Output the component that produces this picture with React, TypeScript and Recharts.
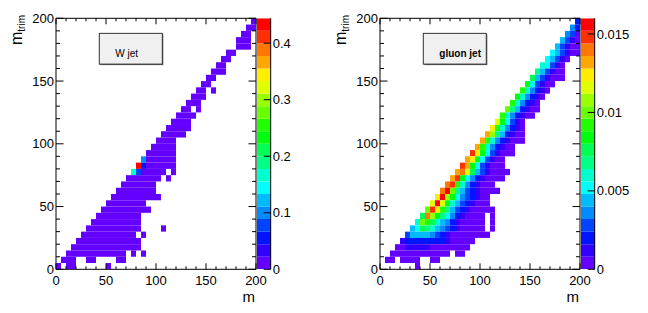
import { ScatterChart, Scatter, XAxis, YAxis, ReferenceArea, Label, BarChart, Bar } from 'recharts';

// 40 x 40 bins from 0 to 200 on both axes
const BINS = 40;
const M_MAX = 200;
const BIN_WIDTH = M_MAX / BINS;

const M_TICKS = [0, 10, 20, 30, 40, 50, 60, 70, 80, 90, 100, 110, 120, 130, 140, 150, 160, 170, 180, 190, 200];
const M_LABELS = [0, 50, 100, 150, 200];

// colour contours, lowest first
const PALETTE = [
    '#6300ff', '#3300ff', '#0014ff', '#0044ff', '#008bff',
    '#00bbff', '#00fffc', '#00ffcc', '#00ff85', '#00ff55',
    '#00ff0e', '#22ff00', '#69ff00', '#99ff00', '#e0ff00',
    '#ffee00', '#ffa700', '#ff7700', '#ff3000', '#ff0000',
];

// one string per m_trim bin (top row first), one char per m bin:
// '.' empty, otherwise the contour band 0-9, a-j (base 36)
const W_JET_ROWS = [
    '.......... .......... .......... .........0',
    '.......... .......... .......... ........00',
    '.......... .......... .......... .......00.',
    '.......... .......... .......... ......000.',
    '.......... .......... .......... ......000.',
    '.......... .......... .......... ....00....',
    '.......... .......... .......... ...00.....',
    '.......... .......... .......... ..00......',
    '.......... .......... .......... .000......',
    '.......... .......... .......... 00........',
    '.......... .......... .........0 0.........',
    '.......... .......... ........00 .0........',
    '.......... .......... .......000 ..........',
    '.......... .......... ......000. ..........',
    '.......... .......... .....00.0. ..........',
    '.......... .......... ....0000.. ..........',
    '.......... .......... ...0000... ..........',
    '.......... .......... ..00000... ..........',
    '.......... .......... .00000.... ..........',
    '.......... .......... 0000...... ..........',
    '.......... .........0 0000...... ..........',
    '.......... ........00 0000...... ..........',
    '.......... .......400 0000...... ..........',
    '.......... ......j200 0000...... ..........',
    '.......... .....73000 00.0...... ..........',
    '.......... ....000000 0.0....... ..........',
    '.......... ...0000000 .......... ..........',
    '.......... ..00000000 .......... ..........',
    '.......... .000000000 0......... ..........',
    '.......... 00000000.. .......... ..........',
    '.........0 000000000. .......... ..........',
    '........00 0000000... .......... ..........',
    '.......000 0000000... .......... ..........',
    '......0000 0000000... .0........ ..........',
    '.....00000 000000.0.. .......... ..........',
    '....000000 0000000... .......... ..........',
    '...0000000 0000000... .......... ..........',
    '..00000000 0000.0.0.. .......... ..........',
    '.000..00.. ..00...... .......... ..........',
    '0.00...... 0......... .......... ..........',
];

const GLUON_JET_ROWS = [
    '.......... .......... .......... .........2',
    '.......... .......... .......... ........42',
    '.......... .......... .......... .......430',
    '.......... .......... .......... ......5310',
    '.......... .......... .......... .....53100',
    '.......... .......... .......... ....653100',
    '.......... .......... .......... ...65310..',
    '.......... .......... .......... ..76310...',
    '.......... .......... .......... .853100...',
    '.......... .......... .......... 9531000...',
    '.......... .......... .........a 63100.....',
    '.......... .......... ........b7 4210......',
    '.......... .......... .......a74 210.......',
    '.......... .......... ......b742 10........',
    '.......... .......... .....c8521 00........',
    '.......... .......... ....b74210 0.........',
    '.......... .......... ...ea6310. ..........',
    '.......... .......... ..fb74210. ..........',
    '.......... .......... .gd852100. ..........',
    '.......... .......... gb7421000. ..........',
    '.......... .........g b742100... ..........',
    '.......... ........if a631000... ..........',
    '.......... .......gfa 63100..... ..........',
    '.......... ......iga6 31000..... ..........',
    '.......... .....ghe95 310000.... ..........',
    '.......... ....gia642 10000..... ..........',
    '.......... ...hib7421 000....... ..........',
    '.......... ..hjc85321 0000...... ..........',
    '.......... .fjda64321 00........ ..........',
    '.......... ejea753210 00........ ..........',
    '.........c ifb8532100 000....... ..........',
    '........9h da86421000 0.0....... ..........',
    '.......7cb 9754210000 0.0....... ..........',
    '......5698 7543210000 0.0....... ..........',
    '.....35555 4321000000 00........ ..........',
    '....122222 222100000. .......... ..........',
    '...0011111 00000000.. .......... ..........',
    '..00000000 0000.00... .......... ..........',
    '.00.0000.. 00........ .......... ..........',
    '.......0.. .......... .......... ..........',
];

const W_Z_MAX = 0.444;
const W_Z_TICKS = [0, 0.1, 0.2, 0.3, 0.4];
const GLUON_Z_MAX = 0.016;
const GLUON_Z_TICKS = [0, 0.005, 0.01, 0.015];

// layout of one pad
const PAD_W = 324;
const PAD_H = 313;
const PLOT_LEFT = 56;
const PLOT_TOP = 18.3;
const PLOT_RIGHT = 256;
const PLOT_BOTTOM = 269.3;
const PLOT_W = PLOT_RIGHT - PLOT_LEFT;
const PLOT_H = PLOT_BOTTOM - PLOT_TOP;
const CELL_W = PLOT_W / BINS;
const CELL_H = PLOT_H / BINS;
const ZBAR_LEFT = 257;
const ZBAR_W = 13.7;

const FONT = "'Liberation Sans', Arial, Helvetica, sans-serif";

interface Cell {
    m: number;
    mTrim: number;
    z: number;
}

function toCells(rows: string[], zMax: number): Cell[] {
    const cells: Cell[] = [];
    rows.forEach((row, r) => {
        const bins = row.replace(/ /g, '');
        const j = BINS - 1 - r;
        for (let c = 0; c < bins.length; c++) {
            if (bins[c] === '.') continue;
            const band = parseInt(bins[c], 36);
            cells.push({
                m: (c + 0.5) * BIN_WIDTH,
                mTrim: (j + 0.5) * BIN_WIDTH,
                z: ((band + 0.5) / PALETTE.length) * zMax,
            });
        }
    });
    return cells;
}

function colorOf(z: number, zMax: number) {
    const i = Math.floor((z / zMax) * PALETTE.length);
    return PALETTE[Math.max(0, Math.min(PALETTE.length - 1, i))];
}

// eslint-disable-next-line @typescript-eslint/no-explicit-any
function MTickX({ x, y, payload }: any) {
    const v = payload.value;
    const major = M_LABELS.includes(v);
    const len = major ? 6 : 3;
    return (
        <g>
            <line x1={x} y1={y} x2={x} y2={y - len} stroke="#000" />
            <line x1={x} y1={PLOT_TOP} x2={x} y2={PLOT_TOP + len} stroke="#000" />
            {major && (
                <text x={x} y={y + 15.7} textAnchor="middle" fontFamily={FONT} fontSize={13} fill="#000">
                    {v}
                </text>
            )}
        </g>
    );
}

// eslint-disable-next-line @typescript-eslint/no-explicit-any
function MTickY({ x, y, payload }: any) {
    const v = payload.value;
    const major = M_LABELS.includes(v);
    const len = major ? 7.5 : 4;
    return (
        <g>
            <line x1={x} y1={y} x2={x + len} y2={y} stroke="#000" />
            <line x1={PLOT_RIGHT} y1={y} x2={PLOT_RIGHT - len} y2={y} stroke="#000" />
            {major && (
                <text x={x - 2} y={y + 4.6} textAnchor="end" fontFamily={FONT} fontSize={13} fill="#000">
                    {v}
                </text>
            )}
        </g>
    );
}

// eslint-disable-next-line @typescript-eslint/no-explicit-any
function ZTick({ x, y, payload }: any) {
    return (
        <g>
            <line x1={x} y1={y} x2={x - 7} y2={y} stroke="#000" />
            <text x={x + 2} y={y + 4.6} textAnchor="start" fontFamily={FONT} fontSize={13} fill="#000">
                {String(payload.value)}
            </text>
        </g>
    );
}

interface PadProps {
    rows: string[];
    zMax: number;
    zTicks: number[];
    title: string;
    bold?: boolean;
}

function Pad({ rows, zMax, zTicks, title, bold }: PadProps) {
    const cells = toCells(rows, zMax);
    const bandRow: Record<string, number | string> = { name: 'z' };
    PALETTE.forEach((_, i) => {
        bandRow[`b${i}`] = zMax / PALETTE.length;
    });

    return (
        <div style={{ position: 'relative', width: PAD_W, height: PAD_H }}>
            <div style={{ position: 'absolute', left: 0, top: 0 }}>
                <ScatterChart width={PAD_W} height={PAD_H} margin={{ top: PLOT_TOP, right: PAD_W - PLOT_RIGHT, bottom: 0, left: 0 }}>
                    <XAxis
                        type="number"
                        dataKey="m"
                        domain={[0, M_MAX]}
                        ticks={M_TICKS}
                        interval={0}
                        allowDataOverflow
                        height={PAD_H - PLOT_BOTTOM}
                        tickSize={0}
                        tickMargin={0}
                        tickLine={false}
                        axisLine={false}
                        tick={(p) => <MTickX {...p} />}
                    >
                        <Label
                            content={() => (
                                <text x={PLOT_RIGHT - 1} y={302} textAnchor="end" fontFamily={FONT} fontSize={15} fill="#000">
                                    m
                                </text>
                            )}
                        />
                    </XAxis>
                    <YAxis
                        type="number"
                        dataKey="mTrim"
                        domain={[0, M_MAX]}
                        ticks={M_TICKS}
                        interval={0}
                        allowDataOverflow
                        width={PLOT_LEFT}
                        tickSize={0}
                        tickMargin={0}
                        tickLine={false}
                        axisLine={false}
                        tick={(p) => <MTickY {...p} />}
                    >
                        <Label
                            content={() => (
                                <text
                                    x={22}
                                    y={15}
                                    transform="rotate(-90, 22, 15)"
                                    textAnchor="end"
                                    fontFamily={FONT}
                                    fontSize={16}
                                    fill="#000"
                                >
                                    <tspan>m</tspan>
                                    <tspan fontSize={10} dy={3}>trim</tspan>
                                </text>
                            )}
                        />
                    </YAxis>
                    <Scatter
                        data={cells}
                        isAnimationActive={false}
                        // eslint-disable-next-line @typescript-eslint/no-explicit-any
                        shape={(p: any) => (
                            <rect
                                x={p.cx - CELL_W / 2}
                                y={p.cy - CELL_H / 2}
                                width={CELL_W}
                                height={CELL_H}
                                fill={colorOf(p.payload.z, zMax)}
                            />
                        )}
                    />
                    <ReferenceArea
                        x1={43.3}
                        x2={106.3}
                        y1={163.5}
                        y2={188}
                        ifOverflow="visible"
                        // eslint-disable-next-line @typescript-eslint/no-explicit-any
                        shape={(p: any) => (
                            <g>
                                <rect x={p.x + 1} y={p.y + 1} width={p.width} height={p.height} fill="#555" />
                                <rect x={p.x} y={p.y} width={p.width} height={p.height} fill="#f0f0f0" stroke="#333" strokeWidth={1} />
                                <text
                                    x={p.x + 16}
                                    y={p.y + 23.5}
                                    fontFamily={FONT}
                                    fontSize={10}
                                    fontWeight={bold ? 'bold' : 'normal'}
                                    fill="#000"
                                >
                                    {title}
                                </text>
                            </g>
                        )}
                    />
                    <ReferenceArea x1={0} x2={M_MAX} y1={0} y2={M_MAX} fill="none" stroke="#000" strokeWidth={1} ifOverflow="visible" />
                </ScatterChart>
            </div>
            <div style={{ position: 'absolute', left: ZBAR_LEFT, top: 0 }}>
                <BarChart
                    width={PAD_W - ZBAR_LEFT}
                    height={PAD_H}
                    data={[bandRow]}
                    margin={{ top: PLOT_TOP, right: 0, bottom: PAD_H - PLOT_BOTTOM, left: 0 }}
                    barCategoryGap={0}
                >
                    <XAxis dataKey="name" hide />
                    <YAxis
                        orientation="right"
                        type="number"
                        domain={[0, zMax]}
                        ticks={zTicks}
                        interval={0}
                        allowDataOverflow
                        width={PAD_W - ZBAR_LEFT - ZBAR_W}
                        tickSize={0}
                        tickMargin={0}
                        tickLine={false}
                        axisLine={{ stroke: '#000' }}
                        tick={(p) => <ZTick {...p} />}
                    />
                    {PALETTE.map((col, i) => (
                        <Bar key={i} dataKey={`b${i}`} stackId="z" fill={col} isAnimationActive={false} />
                    ))}
                </BarChart>
            </div>
        </div>
    );
}

export default function App() {
    return (
        <div style={{ position: 'absolute', left: 0, top: 0, width: 648, height: 313, display: 'flex', background: '#fff' }}>
            <Pad rows={W_JET_ROWS} zMax={W_Z_MAX} zTicks={W_Z_TICKS} title="W jet" />
            <Pad rows={GLUON_JET_ROWS} zMax={GLUON_Z_MAX} zTicks={GLUON_Z_TICKS} title="gluon jet" bold />
        </div>
    );
}
